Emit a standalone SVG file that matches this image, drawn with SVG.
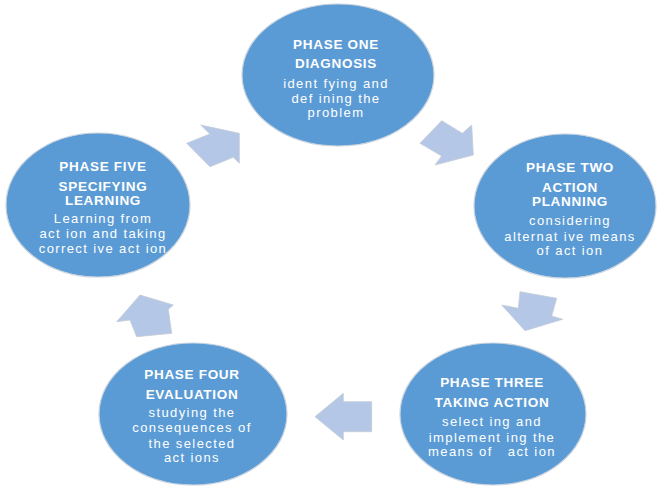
<svg xmlns="http://www.w3.org/2000/svg" width="657" height="490" viewBox="0 0 657 490">
<style>
.node ellipse{fill:#5B9BD5;stroke:#c9d3dd;stroke-width:1.2}
.t{font-family:"Liberation Sans",Arial,sans-serif;font-size:13.5px;font-weight:bold;fill:#fff;text-anchor:middle;letter-spacing:0.7px}
.s{font-family:"Liberation Sans",Arial,sans-serif;font-size:13px;fill:#fff;text-anchor:middle;letter-spacing:1.4px;white-space:pre}
.arrow{fill:#B4C7E7;stroke:#c4ccd6;stroke-width:0.8}
</style>
<rect width="657" height="490" fill="#fff"/>
<g id="connectors">
<polygon class="arrow" points="186.7,143.3 209.8,134 200.7,125 239.3,133.3 239.3,163.3 233.3,157.3 210,166.7"/>
<polygon class="arrow" points="441.7,120.7 462.3,133.3 471.7,125 473.3,155 435,165 441.7,156 420,143.3"/>
<polygon class="arrow" points="520,291.7 556.7,298.3 551.7,316 562.7,319.3 525,330.7 501.7,305 518.3,308.3"/>
<polygon class="arrow" points="315,416.7 343.3,393.3 343.3,401.7 371.7,401.7 371.7,431.7 343.3,431.7 343.3,440"/>
<polygon class="arrow" points="140,295 173.3,305 168.3,309.3 171.7,333.3 136.7,336.7 130,320 116.7,321.7"/>
</g>
<g id="phase1" class="node">
<ellipse cx="338" cy="75" rx="96" ry="71"/>
<text class="t" x="336" y="49">PHASE ONE</text>
<text class="t" x="336" y="68">DIAGNOSIS</text>
<text class="s" x="336" y="88">ident fying and</text>
<text class="s" x="336" y="102.5">def ining the</text>
<text class="s" x="336" y="117">problem</text>
</g>
<g id="phase2" class="node">
<ellipse cx="565" cy="206" rx="91" ry="72"/>
<text class="t" x="570" y="172">PHASE TWO</text>
<text class="t" x="570" y="191.5">ACTION</text>
<text class="t" x="570" y="206">PLANNING</text>
<text class="s" x="570" y="225">considering</text>
<text class="s" x="570" y="240.5">alternat ive means</text>
<text class="s" x="570" y="255">of act ion</text>
</g>
<g id="phase3" class="node">
<ellipse cx="493" cy="414" rx="93" ry="71"/>
<text class="t" x="492" y="387">PHASE THREE</text>
<text class="t" x="492" y="406.5">TAKING ACTION</text>
<text class="s" x="492" y="426">select ing and</text>
<text class="s" x="492" y="441.5">implement ing the</text>
<text class="s" x="492" y="456">means of   act ion</text>
</g>
<g id="phase4" class="node">
<ellipse cx="193" cy="414" rx="94" ry="71"/>
<text class="t" x="192" y="379">PHASE FOUR</text>
<text class="t" x="192" y="399">EVALUATION</text>
<text class="s" x="192" y="417">studying the</text>
<text class="s" x="192" y="432">consequences of</text>
<text class="s" x="192" y="447.5">the selected</text>
<text class="s" x="192" y="462">act ions</text>
</g>
<g id="phase5" class="node">
<ellipse cx="98" cy="205" rx="92" ry="72"/>
<text class="t" x="103" y="170.5">PHASE FIVE</text>
<text class="t" x="103" y="190.5">SPECIFYING</text>
<text class="t" x="103" y="205">LEARNING</text>
<text class="s" x="103" y="223">Learning from</text>
<text class="s" x="103" y="238">act ion and taking</text>
<text class="s" x="103" y="253">correct ive act ion</text>
</g>
</svg>
